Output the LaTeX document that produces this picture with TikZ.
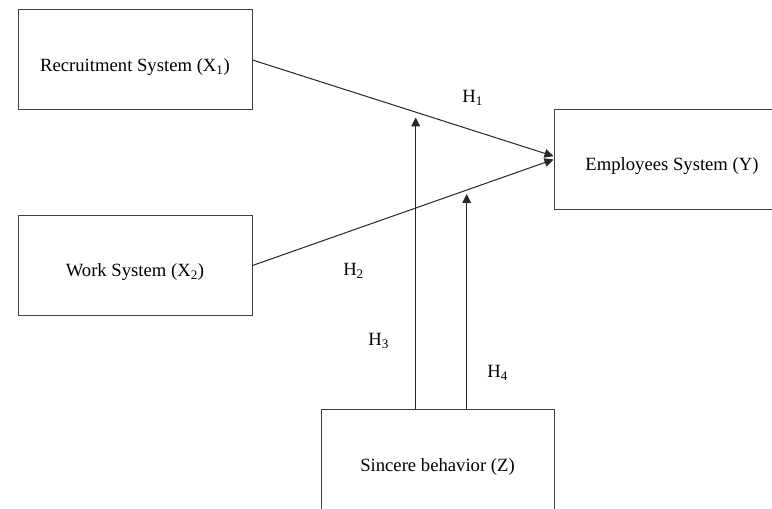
\documentclass[tikz,border=0pt]{standalone}
\usepackage{fontspec}
\setmainfont{Liberation Serif}
\usetikzlibrary{arrows.meta}

\begin{document}
\begin{tikzpicture}[
    x=0.75pt,y=-0.75pt,
    box/.style={draw=black!75,line width=0.75pt,align=center,minimum width=175.5pt,minimum height=75pt,text height=21pt,text depth=4pt,font=\fontsize{14}{17}\selectfont},
    hlabel/.style={anchor=base west,inner sep=0pt,font=\fontsize{14}{17}\selectfont},
    arrow/.style={-{Triangle[length=6.75pt,width=6.5pt]},line width=0.75pt,color=black!85}
  ]
    \path[use as bounding box,clip] (0,0) rectangle (772,509);
    \node[box] (recruit) at (135,60) {Recruitment System (X\textsubscript{1})};
    \node[box] (work) at (135,265.5) {Work System (X\textsubscript{2})};
    \node[box,minimum width=177pt] (employ) at (672,159.5) {Employees System (Y)};
    \node[box,minimum width=174.75pt,minimum height=76pt] (sincere) at (437.5,460) {Sincere behavior (Z)};
    \coordinate (mod1) at (415.7,117.5);
    \coordinate (mod2) at (466.7,194);
    \draw[arrow] (recruit.east) -- ([yshift=2.5pt]employ.west);
    \draw[arrow] (work.east) -- (employ.west);
    \draw[arrow] (sincere.north -| mod1) -- (mod1);
    \draw[arrow] (sincere.north -| mod2) -- (mod2);
    \node[hlabel] (h1) at (462,103) {H\textsubscript{1}};
    \node[hlabel] (h2) at (343,276) {H\textsubscript{2}};
    \node[hlabel] (h3) at (368,346) {H\textsubscript{3}};
    \node[hlabel] (h4) at (487,378) {H\textsubscript{4}};
  \end{tikzpicture}
\end{document}
